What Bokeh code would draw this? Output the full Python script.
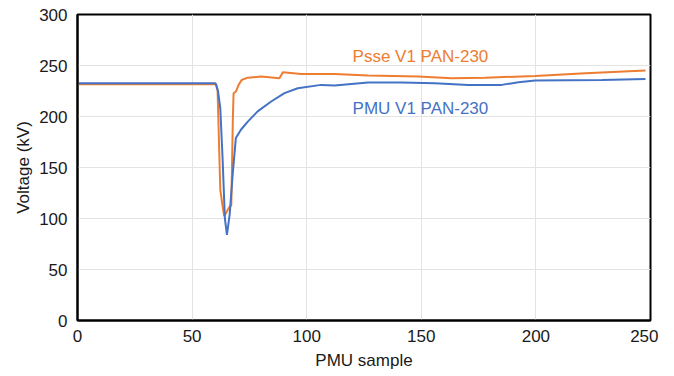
from bokeh.plotting import figure
from bokeh.embed import file_html
from bokeh.resources import INLINE
from bokeh.models import Range1d, Label

# PSS/E simulated voltage (orange)
psse_x = [0, 60.5, 61.1, 62.3, 63.2, 64.0, 66.2, 67.1, 67.8, 68.1, 69.1, 70.3, 71.6, 74.3,
          80.1, 88.1, 89.6, 97.6, 112.2, 126.8, 148.7, 163.3, 177.9, 199.7, 221.6, 247.8]
psse_v = [231.6, 231.6, 226, 128, 113.7, 102.3, 111.1, 112.7, 200, 222.8, 224.5, 231, 235.8, 238.1,
          239.1, 237.5, 243.3, 241.7, 241.7, 240.1, 239.1, 237.5, 238.1, 239.7, 242.4, 245.0]

# PMU measured voltage (blue)
pmu_x = [0, 60.2, 61.3, 62.3, 63.3, 64.3, 65.2, 66.4, 67.7, 69.1, 71.3, 74.3, 78.6, 84.5,
         90.3, 96.1, 106.3, 112.2, 126.8, 141.4, 155.9, 170.5, 185.1, 192.4, 199.7, 214.3,
         228.9, 247.8]
pmu_v = [232.6, 232.6, 225, 208, 159, 100, 84, 104, 143, 179, 187, 195, 205, 214.7,
         222.9, 227.7, 231.0, 230.3, 233.3, 233.3, 232.6, 231.0, 231.0, 233.6, 235.2, 235.5,
         235.8, 236.8]

x_ticks = [0, 50, 100, 150, 200, 250]
y_ticks = [0, 50, 100, 150, 200, 250, 300]
x_title = "PMU sample"
y_title = "Voltage (kV)"

FONT = "Liberation Sans"
ORANGE = "#ED7D31"
BLUE = "#4472C4"
TXT = "#1a1a1a"

p = figure(width=658, height=372, output_backend="svg", toolbar_location=None,
           x_range=Range1d(0, 250), y_range=Range1d(0, 300),
           min_border_left=77, min_border_right=8, min_border_top=14, min_border_bottom=49)

p.line(psse_x, psse_v, line_color=ORANGE, line_width=2)
p.line(pmu_x, pmu_v, line_color=BLUE, line_width=2)

p.add_layout(Label(x=120.0, y=258.5, text="Psse V1 PAN-230", text_color=ORANGE,
                   text_font=FONT, text_font_size="17px", text_baseline="alphabetic"))
p.add_layout(Label(x=120.0, y=208.0, text="PMU V1 PAN-230", text_color=BLUE,
                   text_font=FONT, text_font_size="17px", text_baseline="alphabetic"))

p.xaxis.ticker = x_ticks
p.yaxis.ticker = y_ticks
p.xaxis.axis_label = x_title
p.yaxis.axis_label = y_title

for ax in (p.xaxis, p.yaxis):
    ax.axis_line_color = "black"
    ax.axis_line_width = 2
    ax.major_tick_line_color = None
    ax.minor_tick_line_color = None
    ax.major_label_text_font = FONT
    ax.major_label_text_font_size = "17px"
    ax.major_label_text_color = TXT
    ax.axis_label_text_font = FONT
    ax.axis_label_text_font_size = "17px"
    ax.axis_label_text_font_style = "normal"
    ax.axis_label_text_color = TXT

p.xaxis.major_label_standoff = 3
p.xaxis.axis_label_standoff = 6
p.yaxis.major_label_standoff = 4
p.yaxis.axis_label_standoff = 3

p.xgrid.grid_line_color = "#e3e3e3"
p.ygrid.grid_line_color = "#e3e3e3"
p.xgrid.ticker = x_ticks
p.ygrid.ticker = y_ticks

p.outline_line_color = "black"
p.outline_line_width = 2
p.outline_line_alpha = 1.0
p.background_fill_color = "white"
p.border_fill_color = "white"

open("out.html", "w").write(file_html(p, INLINE))
